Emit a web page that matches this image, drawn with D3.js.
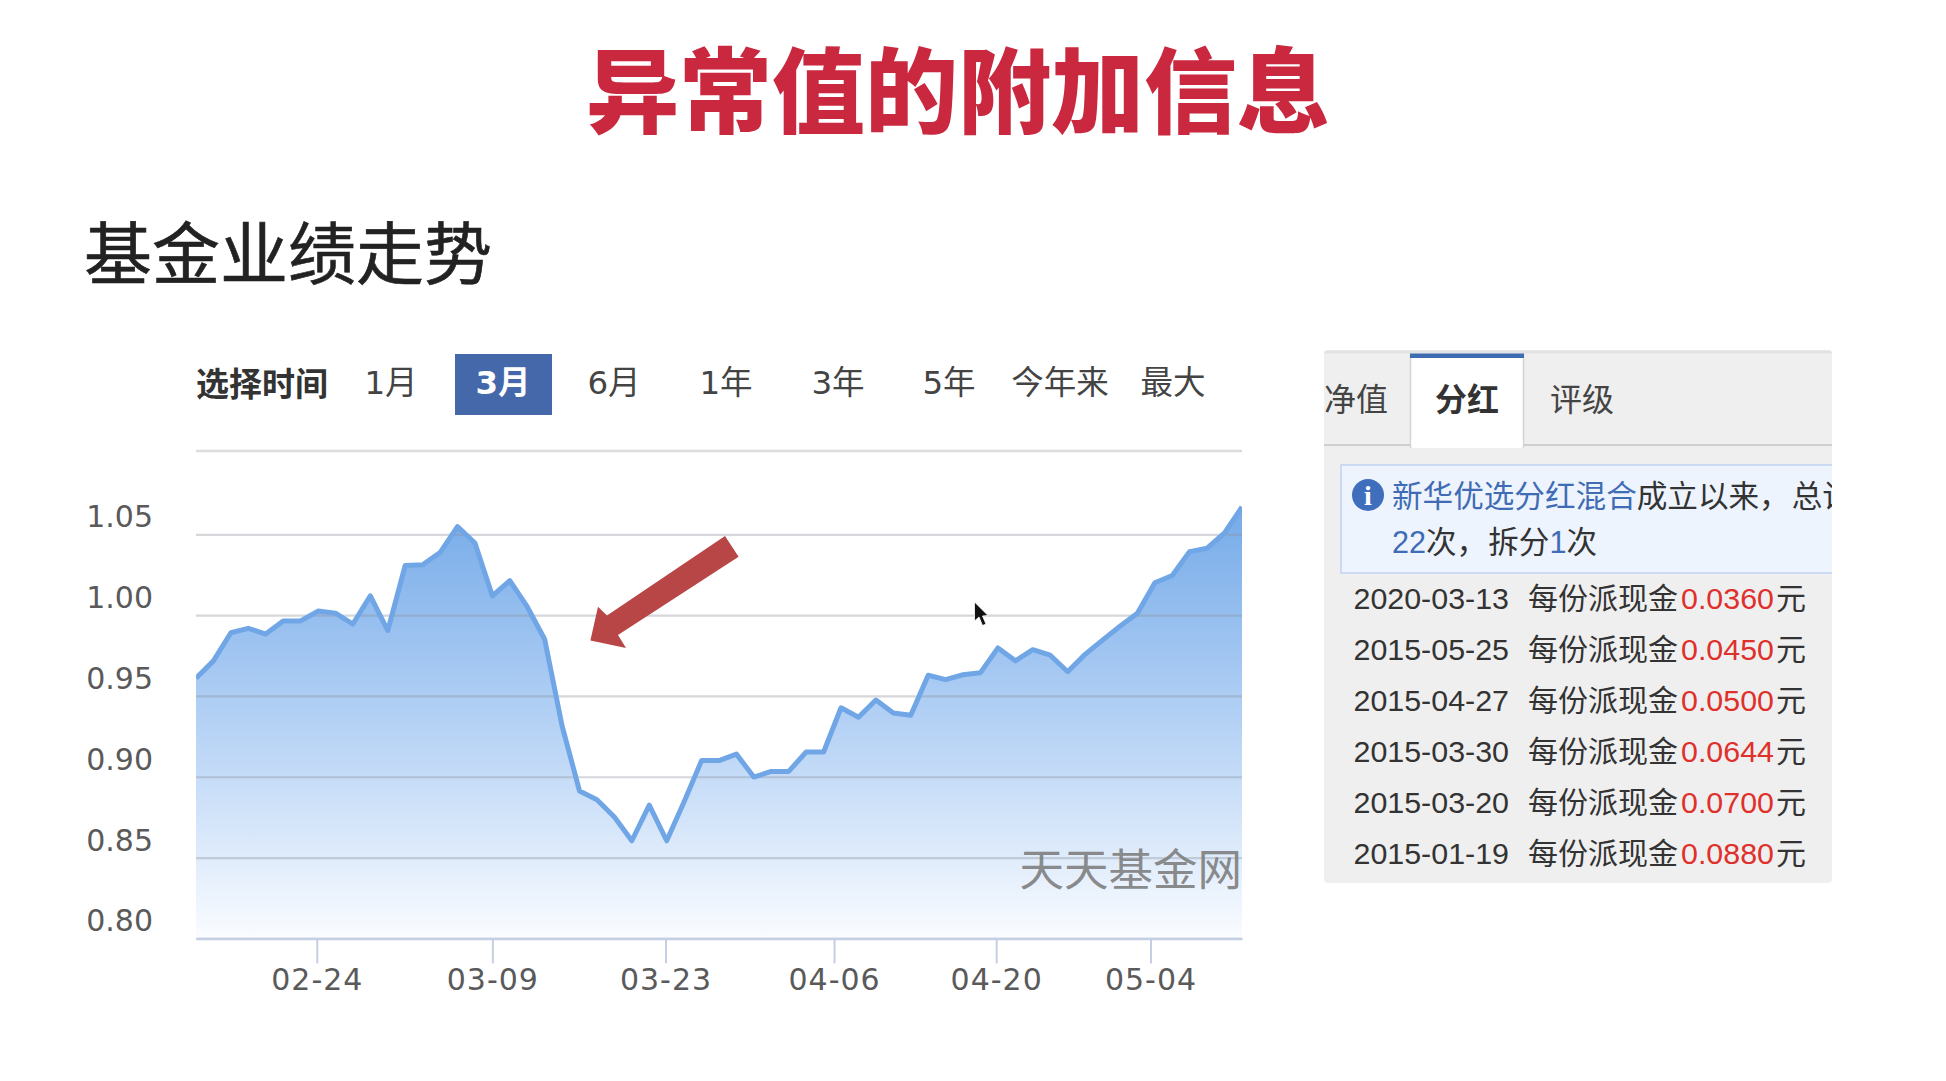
<!DOCTYPE html>
<html>
<head>
<meta charset="utf-8">
<script src="https://cdn.jsdelivr.net/npm/d3@7/dist/d3.min.js"></script>
<style>
  html, body { margin: 0; padding: 0; background: #fff; }
  svg { display: block; }
</style>
</head>
<body>
<div id="chart"></div>
<script>
//net value per trading day
var navValues = [
  0.9609, 0.9717, 0.9891, 0.9918, 0.9883, 0.9964, 0.9964, 1.0025, 1.0012, 0.9945,
  1.0119, 0.9904, 1.0307, 1.0312, 1.0387, 1.0548, 1.0446, 1.0119, 1.0213, 1.0052,
  0.9851, 0.9314, 0.8912, 0.8858, 0.8751, 0.8604, 0.8824, 0.8604, 0.8845, 0.9100,
  0.9100, 0.9140, 0.8998, 0.9033, 0.9033, 0.9153, 0.9153, 0.9427, 0.9368, 0.9475,
  0.9395, 0.9381, 0.9628, 0.9601, 0.9631, 0.9644, 0.9797, 0.9717, 0.9786, 0.9752,
  0.9650, 0.9757, 0.9845, 0.9931, 1.0012, 1.0200, 1.0245, 1.0393, 1.0414, 1.0508,
  1.0669
];
var yTicks = [0.80, 0.85, 0.90, 0.95, 1.00, 1.05];
var xTickPositions = [6.93, 17, 26.93, 36.6, 45.9, 54.75];
var xTickLabels = ["02-24", "03-09", "03-23", "04-06", "04-20", "05-04"];
var rangeLabels = ["1月", "3月", "6月", "1年", "3年", "5年", "今年来", "最大"];
var rangeCenters = [391, 503, 614, 726, 838, 949, 1060, 1173];
var activeRange = "3月";
var dividendDates = ["2020-03-13", "2015-05-25", "2015-04-27", "2015-03-30", "2015-03-20", "2015-01-19"];
var dividendAmounts = ["0.0360", "0.0450", "0.0500", "0.0644", "0.0700", "0.0880"];

var cjk = '"Noto Sans CJK SC"';
var axisFont = '"DejaVu Sans", ' + cjk;
var panelFont = '"Liberation Sans", ' + cjk;

var svg = d3.select("#chart").append("svg")
    .attr("width", 1946)
    .attr("height", 1081);

//titles
svg.append("text")
    .attr("x", 958).attr("y", 126)
    .attr("text-anchor", "middle")
    .attr("font-family", cjk).attr("font-size", 93).attr("font-weight", 900)
    .attr("fill", "#c9283f")
    .text("异常值的附加信息");
svg.append("text")
    .attr("x", 84).attr("y", 279)
    .attr("font-family", cjk).attr("font-size", 68)
    .attr("fill", "#222").attr("stroke", "#222").attr("stroke-width", 0.6)
    .text("基金业绩走势");

//time range buttons
svg.append("text")
    .attr("x", 196).attr("y", 396)
    .attr("font-family", cjk).attr("font-size", 33).attr("font-weight", 700)
    .attr("fill", "#333")
    .text("选择时间");
svg.append("rect")
    .attr("x", 455).attr("y", 354).attr("width", 97).attr("height", 61)
    .attr("fill", "#4568ab");
svg.append("g").selectAll("text")
    .data(rangeLabels)
    .enter()
    .append("text")
    .attr("x", (d, i) => rangeCenters[i])
    .attr("y", 394)
    .attr("text-anchor", "middle")
    .attr("font-family", axisFont).attr("font-size", 32.5)
    .attr("font-weight", d => d == activeRange ? 700 : 400)
    .attr("fill", d => d == activeRange ? "#fff" : "#444")
    .text(d => d);

//chart
var plotLeft = 196, plotRight = 1242, plotTop = 451;
var xScale = d3.scaleLinear().domain([0, navValues.length - 1]).range([plotLeft, plotRight]);
var yScale = d3.scaleLinear().domain([0.80, 1.05]).range([938.4, 534.3]);

var defs = svg.append("defs");
var grad = defs.append("linearGradient")
    .attr("id", "areaFill")
    .attr("gradientUnits", "userSpaceOnUse")
    .attr("x1", 0).attr("x2", 0)
    .attr("y1", yScale(1.07)).attr("y2", yScale(0.80));
grad.append("stop").attr("offset", "0%").attr("stop-color", "#74aae8");
grad.append("stop").attr("offset", "55%").attr("stop-color", "#bad5f6");
grad.append("stop").attr("offset", "100%").attr("stop-color", "#fafcff");

defs.append("clipPath").attr("id", "plotClip")
    .append("rect")
    .attr("x", plotLeft).attr("y", plotTop)
    .attr("width", plotRight - plotLeft).attr("height", 938.4 - plotTop);

var area = d3.area()
    .x((d, i) => xScale(i))
    .y0(yScale(0.80))
    .y1(d => yScale(d));
var line = d3.line()
    .x((d, i) => xScale(i))
    .y(d => yScale(d));

svg.append("path")
    .datum(navValues)
    .attr("d", area)
    .attr("fill", "url(#areaFill)");

//top frame line
svg.append("line")
    .attr("x1", plotLeft).attr("x2", plotRight)
    .attr("y1", plotTop).attr("y2", plotTop)
    .attr("stroke", "#dcdcde").attr("stroke-width", 2.5);

var yAxis = d3.axisLeft(yScale)
    .tickValues(yTicks)
    .tickFormat(d3.format(".2f"))
    .tickSize(-(plotRight - plotLeft))
    .tickPadding(43);
var yGroup = svg.append("g")
    .attr("transform", `translate(${plotLeft},0)`)
    .call(yAxis);
yGroup.select(".domain").remove();
yGroup.selectAll(".tick line")
    .attr("stroke", "#8a8f9c").attr("stroke-opacity", 0.36).attr("stroke-width", 2.2);
yGroup.selectAll(".tick text")
    .attr("font-family", axisFont).attr("font-size", 30)
    .attr("fill", "#5a5a5a")
    .attr("dy", "-0.25em");

var xAxis = d3.axisBottom(xScale)
    .tickValues(xTickPositions)
    .tickFormat((d, i) => xTickLabels[i])
    .tickSize(25)
    .tickSizeOuter(0)
    .tickPadding(5);
var xGroup = svg.append("g")
    .attr("transform", "translate(0,938.4)")
    .call(xAxis);
xGroup.select(".domain")
    .attr("stroke", "#c5cfe2").attr("stroke-width", 2.5);
xGroup.selectAll(".tick line")
    .attr("stroke", "#c5cfe2").attr("stroke-width", 2);
xGroup.selectAll(".tick text")
    .attr("font-family", axisFont).attr("font-size", 30)
    .attr("letter-spacing", 1)
    .attr("fill", "#5a5a5a");

svg.append("path")
    .datum(navValues)
    .attr("d", line)
    .attr("fill", "none")
    .attr("clip-path", "url(#plotClip)")
    .attr("stroke", "#70a6e6")
    .attr("stroke-width", 5)
    .attr("stroke-linejoin", "round");

svg.append("text")
    .attr("x", 1242).attr("y", 886)
    .attr("text-anchor", "end")
    .attr("font-family", cjk).attr("font-size", 44.5)
    .attr("fill", "#7c7c7c").attr("fill-opacity", 0.9)
    .text("天天基金网");

//red annotation arrow
svg.append("polygon")
    .attr("points", "725,536 738.6,556.8 618,635 626,648 590.4,640.5 598,606.7 607,615.4")
    .attr("fill", "#b94646");

//mouse pointer
svg.append("path")
    .attr("d", "M974.5,602 L974.5,621 L979,617 L982.5,625.5 L986,624 L982.5,616 L988,615.5 Z")
    .attr("fill", "#111").attr("stroke", "#fff").attr("stroke-width", 0.8);

//dividend panel
var panel = svg.append("g");
defs.append("clipPath").attr("id", "panelClip")
    .append("rect")
    .attr("x", 1324).attr("y", 350).attr("width", 508).attr("height", 533).attr("rx", 4);
panel.attr("clip-path", "url(#panelClip)");

panel.append("rect")
    .attr("x", 1324).attr("y", 350).attr("width", 508).attr("height", 533)
    .attr("fill", "#efefef");
panel.append("line")
    .attr("x1", 1324).attr("x2", 1832).attr("y1", 352).attr("y2", 352)
    .attr("stroke", "#e2e2e2").attr("stroke-width", 3);
panel.append("line")
    .attr("x1", 1324).attr("x2", 1832).attr("y1", 445).attr("y2", 445)
    .attr("stroke", "#cfcfcf").attr("stroke-width", 2);
panel.append("rect")
    .attr("x", 1410.5).attr("y", 355).attr("width", 113).attr("height", 92)
    .attr("fill", "#fff").attr("stroke", "#cfd3da").attr("stroke-width", 1.5);
panel.append("rect")
    .attr("x", 1410).attr("y", 353.5).attr("width", 114).attr("height", 4.5)
    .attr("fill", "#3d6cb0");
panel.append("rect")
    .attr("x", 1411.5).attr("y", 440).attr("width", 111).attr("height", 8)
    .attr("fill", "#fff");

var tabText = function(x, label, bold) {
    panel.append("text")
        .attr("x", x).attr("y", 410.5)
        .attr("font-family", cjk).attr("font-size", 32)
        .attr("font-weight", bold ? 700 : 400)
        .attr("fill", bold ? "#333" : "#444")
        .text(label);
};
tabText(1324, "净值", false);
tabText(1435, "分红", true);
tabText(1550, "评级", false);

panel.append("rect")
    .attr("x", 1341).attr("y", 465).attr("width", 500).attr("height", 108)
    .attr("fill", "#eef4fd").attr("stroke", "#c3d5f3").attr("stroke-width", 1.6);
panel.append("circle")
    .attr("cx", 1368).attr("cy", 495).attr("r", 16)
    .attr("fill", "#3f6fbc");
panel.append("text")
    .attr("x", 1368).attr("y", 505)
    .attr("text-anchor", "middle")
    .attr("font-family", '"Liberation Serif"').attr("font-weight", 700).attr("font-size", 28)
    .attr("fill", "#fff")
    .text("i");

var infoLine1 = panel.append("text")
    .attr("x", 1392).attr("y", 507)
    .attr("font-family", panelFont).attr("font-size", 30.6).attr("fill", "#333");
infoLine1.append("tspan").attr("fill", "#3f6cb4").text("新华优选分红混合");
infoLine1.append("tspan").text("成立以来，");
infoLine1.append("tspan").attr("dx", 2).text("总计");

var infoLine2 = panel.append("text")
    .attr("x", 1392).attr("y", 553)
    .attr("font-family", panelFont).attr("font-size", 30.6).attr("fill", "#333");
infoLine2.append("tspan").attr("fill", "#3f6cb4").text("22");
infoLine2.append("tspan").text("次，");
infoLine2.append("tspan").attr("dx", 1).text("拆分");
infoLine2.append("tspan").attr("fill", "#3f6cb4").text("1");
infoLine2.append("tspan").text("次");

var rowY = d3.scaleLinear().domain([0, dividendDates.length - 1]).range([609, 863.5]);
var rows = panel.append("g").selectAll("g")
    .data(dividendDates)
    .enter()
    .append("g")
    .attr("font-family", panelFont).attr("font-size", 30.4)
    .attr("fill", "#333");
rows.append("text")
    .attr("x", 1353.5).attr("y", (d, i) => rowY(i))
    .text(d => d);
rows.append("text")
    .attr("x", 1528).attr("y", (d, i) => rowY(i))
    .attr("font-size", 30)
    .text("每份派现金");
rows.append("text")
    .attr("x", 1681).attr("y", (d, i) => rowY(i))
    .attr("fill", "#e0302b")
    .text((d, i) => dividendAmounts[i]);
rows.append("text")
    .attr("x", 1776).attr("y", (d, i) => rowY(i))
    .attr("font-size", 30)
    .text("元");
</script>
</body>
</html>
